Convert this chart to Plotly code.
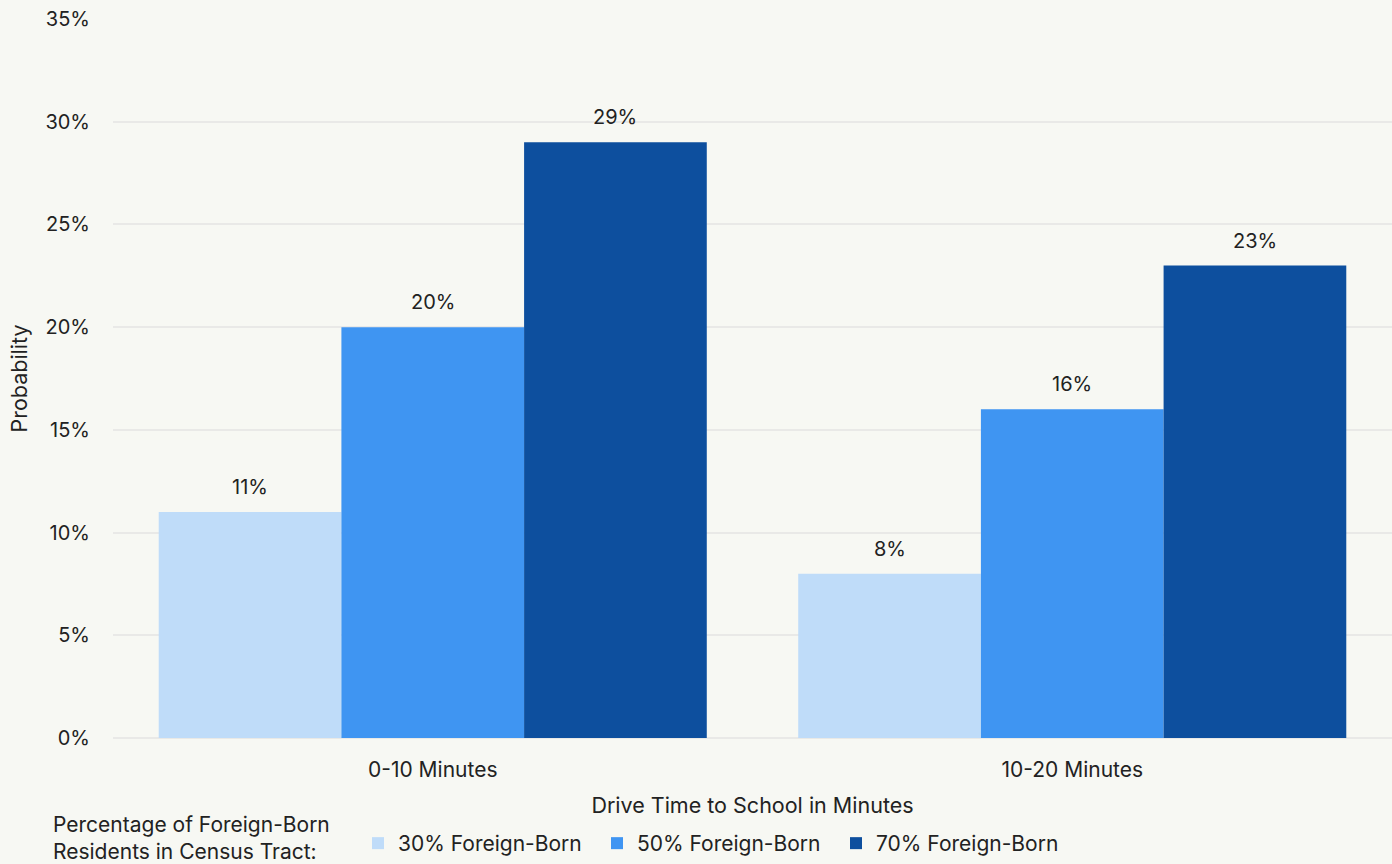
import plotly.graph_objects as go

categories = ["0-10 Minutes", "10-20 Minutes"]
series_names = ["30% Foreign-Born", "50% Foreign-Born", "70% Foreign-Born"]
values_30 = [11, 8]
values_50 = [20, 16]
values_70 = [29, 23]
colors = ["#bfdcf9", "#3f95f2", "#0d4f9e"]
legend_title = "Percentage of Foreign-Born<br>Residents in Census Tract:"

FONT = "Inter"
TEXT = "#222222"

fig = go.Figure()
for name, vals, col in zip(series_names, [values_30, values_50, values_70], colors):
    fig.add_trace(go.Bar(
        x=categories, y=vals, name=name, marker_color=col,
        marker_line_width=0,
    ))

# value labels above each bar
n = len(series_names)
for i, vals in enumerate([values_30, values_50, values_70]):
    for j, v in enumerate(vals):
        fig.add_annotation(
            x=j, y=v, xref="x", yref="y",
            text=f"{v}%", showarrow=False,
            xshift=(i - (n - 1) / 2) * 182.7,
            yshift=25,
            font=dict(family=FONT, size=20, color=TEXT),
        )

# legend heading, to the left of the legend entries
fig.add_annotation(
    text=legend_title, xref="paper", yref="paper",
    x=-61 / 1279, y=-0.102, xanchor="left", yanchor="top",
    align="left", showarrow=False, borderpad=0,
    font=dict(family=FONT, size=21, color=TEXT),
)

fig.update_layout(
    width=1392, height=864,
    paper_bgcolor="#f7f8f3", plot_bgcolor="#f7f8f3",
    margin=dict(l=113, r=0, t=19, b=126),
    barmode="group", bargap=0.143, bargroupgap=0,
    font=dict(family=FONT, size=20, color=TEXT),
    xaxis=dict(
        title=dict(text="Drive Time to School in Minutes", standoff=16,
                   font=dict(family=FONT, size=21.5, color=TEXT)),
        tickfont=dict(size=21),
        showgrid=False, ticks="", ticklabelstandoff=17,
    ),
    yaxis=dict(
        title=dict(text="Probability", standoff=11,
                   font=dict(family=FONT, size=21.5, color=TEXT)),
        range=[0, 35], tickvals=[0, 5, 10, 15, 20, 25, 30, 35],
        ticktext=[f"{v}%" for v in [0, 5, 10, 15, 20, 25, 30, 35]],
        tickfont=dict(size=20),
        gridcolor="#e9e9e7", gridwidth=2,
        zeroline=True, zerolinecolor="#e9e9e7", zerolinewidth=2,
        ticklabelstandoff=22,
    ),
    legend=dict(
        orientation="h", xref="container", yref="container",
        x=358 / 1392, y=5, xanchor="left", yanchor="bottom",
        entrywidth=194, entrywidthmode="pixels",
        itemwidth=30, font=dict(size=21),
    ),
    showlegend=True,
)

fig.write_html("out.html")
